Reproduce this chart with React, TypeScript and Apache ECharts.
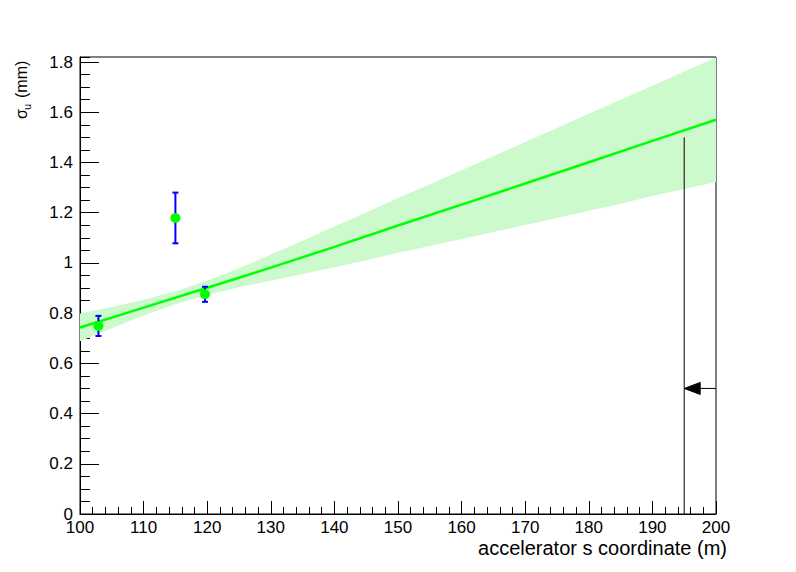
import React, { useEffect, useRef } from "react";
import * as echarts from "echarts";

// ---- data ----
const bandX = [100, 105, 110, 115, 120, 125, 130, 135, 140, 145, 150, 155, 160, 165, 170, 175, 180, 185, 190, 195, 200];
const bandUpper = [0.798, 0.824, 0.853, 0.887, 0.929, 0.979, 1.033, 1.088, 1.145, 1.201, 1.258, 1.313, 1.369, 1.425, 1.481, 1.537, 1.594, 1.65, 1.706, 1.762, 1.818];
const bandLower = [0.688, 0.74, 0.791, 0.835, 0.873, 0.903, 0.929, 0.956, 0.983, 1.011, 1.04, 1.067, 1.095, 1.123, 1.151, 1.179, 1.208, 1.236, 1.266, 1.294, 1.322];

const fitX = [100, 110, 120, 130, 140, 150, 160, 170, 180, 190, 200];
const fitY = [0.743, 0.822, 0.901, 0.981, 1.064, 1.149, 1.232, 1.316, 1.401, 1.486, 1.57];

const pointX = [102.9, 115, 119.65];
const pointY = [0.749, 1.179, 0.875];
const pointErr = [0.04, 0.101, 0.03];

const cutX = 195;
const cutTop = 1.5;
const arrowFromX = 200;
const arrowToX = 195;
const arrowY = 0.5;

const xTitle = "accelerator s coordinate (m)";
const yTitleMain = "σ";
const yTitleSub = "u";
const yTitleUnit = "(mm)";
const FONT = "Liberation Sans";

export default function App() {
  const ref = useRef<HTMLDivElement>(null);

  useEffect(() => {
    if (!ref.current) return;
    const chart = echarts.init(ref.current, null, { renderer: "svg" });

    const rot = Math.PI / 2;
    const option: any = {
      animation: false,
      backgroundColor: "#ffffff",
      textStyle: { fontFamily: FONT },
      grid: {
        left: 80,
        right: 80,
        top: 57,
        bottom: 58,
        show: true,
        borderColor: "#000000",
        borderWidth: 1,
        backgroundColor: "transparent",
        outerBoundsMode: "none",
      },
      xAxis: {
        type: "value",
        min: 100,
        max: 200,
        interval: 10,
        axisLine: { show: true, lineStyle: { color: "#000", width: 1 } },
        axisTick: { show: true, inside: true, length: 13, lineStyle: { color: "#000", width: 1 } },
        minorTick: { show: true, splitNumber: 5, length: 7, lineStyle: { color: "#000", width: 1 } },
        splitLine: { show: false },
        minorSplitLine: { show: false },
        axisLabel: { color: "#000", fontSize: 17, fontFamily: FONT, margin: 5 },
      },
      yAxis: [
        {
          type: "value",
          min: 0,
          max: 1.82,
          interval: 0.2,
          position: "left",
          axisLine: { show: true, lineStyle: { color: "#000", width: 1 } },
          axisTick: { show: true, inside: true, length: 19, lineStyle: { color: "#000", width: 1 } },
          minorTick: { show: false },
          splitLine: { show: false },
          axisLabel: { color: "#000", fontSize: 17, fontFamily: FONT, margin: 7, showMaxLabel: false },
        },
        {
          type: "value",
          min: 0,
          max: 1.82,
          interval: 0.05,
          position: "left",
          axisLine: { show: false },
          axisTick: { show: true, inside: true, length: 10, lineStyle: { color: "#000", width: 1 } },
          splitLine: { show: false },
          axisLabel: { show: false },
        },
      ],
      graphic: [
        {
          type: "text",
          right: 796 - 727,
          top: 538,
          style: { text: xTitle, fontSize: 20, fontFamily: FONT, fill: "#000" },
        },
        {
          type: "text",
          x: 21,
          y: 119,
          rotation: rot,
          style: { text: yTitleMain, fontSize: 16, fontFamily: FONT, fill: "#000", align: "left", verticalAlign: "middle" },
        },
        {
          type: "text",
          x: 26.5,
          y: 110,
          rotation: rot,
          style: { text: yTitleSub, fontSize: 11, fontFamily: FONT, fill: "#000", align: "left", verticalAlign: "middle" },
        },
        {
          type: "text",
          x: 21.5,
          y: 98,
          rotation: rot,
          style: { text: yTitleUnit, fontSize: 16, fontFamily: FONT, fill: "#000", align: "left", verticalAlign: "middle" },
        },
      ],
      series: [
        {
          type: "custom",
          name: "band",
          data: bandX.map((x, i) => [x, bandLower[i], bandUpper[i]]),
          encode: { x: 0, y: [1, 2] },
          silent: true,
          z: 1,
          renderItem: (params: any, api: any) => {
            if (params.dataIndex !== 0) return null;
            const pts: number[][] = [];
            for (let i = 0; i < bandX.length; i++) pts.push(api.coord([bandX[i], bandUpper[i]]));
            for (let i = bandX.length - 1; i >= 0; i--) pts.push(api.coord([bandX[i], bandLower[i]]));
            return { type: "polygon", shape: { points: pts }, style: { fill: "#ccfacc", stroke: null } };
          },
        },
        {
          type: "line",
          name: "fit",
          data: fitX.map((x, i) => [x, fitY[i]]),
          symbol: "none",
          lineStyle: { color: "#00ff00", width: 2.5 },
          z: 3,
        },
        {
          type: "line",
          name: "cut",
          data: [
            [cutX, 0],
            [cutX, cutTop],
          ],
          symbol: "none",
          lineStyle: { color: "#000", width: 1 },
          z: 4,
        },
        {
          type: "custom",
          name: "arrow",
          data: [[arrowFromX, arrowY, arrowToX]],
          encode: { x: 0, y: 1 },
          renderItem: (params: any, api: any) => {
            const from = api.coord([api.value(0), api.value(1)]);
            const to = api.coord([api.value(2), api.value(1)]);
            return {
              type: "group",
              children: [
                { type: "line", shape: { x1: from[0], y1: from[1], x2: to[0] + 14, y2: to[1] }, style: { stroke: "#000", lineWidth: 1 } },
                {
                  type: "polygon",
                  shape: { points: [[to[0], to[1]], [to[0] + 16, to[1] - 6], [to[0] + 16, to[1] + 6]] },
                  style: { fill: "#000", stroke: "#000" },
                },
              ],
            };
          },
          z: 4,
        },
        {
          type: "custom",
          name: "errors",
          data: pointX.map((x, i) => [x, pointY[i], pointErr[i]]),
          encode: { x: 0, y: 1 },
          renderItem: (params: any, api: any) => {
            const x = api.value(0);
            const y = api.value(1);
            const e = api.value(2);
            const top = api.coord([x, y + e]);
            const bot = api.coord([x, y - e]);
            const st = { stroke: "#0000ff", lineWidth: 2 };
            return {
              type: "group",
              children: [
                { type: "line", shape: { x1: top[0], y1: top[1], x2: bot[0], y2: bot[1] }, style: st },
                { type: "line", shape: { x1: top[0] - 3, y1: top[1], x2: top[0] + 3, y2: top[1] }, style: st },
                { type: "line", shape: { x1: bot[0] - 3, y1: bot[1], x2: bot[0] + 3, y2: bot[1] }, style: st },
              ],
            };
          },
          z: 5,
        },
        {
          type: "scatter",
          name: "points",
          data: pointX.map((x, i) => [x, pointY[i]]),
          symbol: "circle",
          symbolSize: 10,
          itemStyle: { color: "#00ff00", opacity: 1 },
          z: 6,
        },
      ],
    };

    chart.setOption(option);
    return () => chart.dispose();
  }, []);

  return (
    <div
      ref={ref}
      style={{ position: "absolute", left: 0, top: 0, width: 796, height: 572, background: "#fff" }}
    />
  );
}
